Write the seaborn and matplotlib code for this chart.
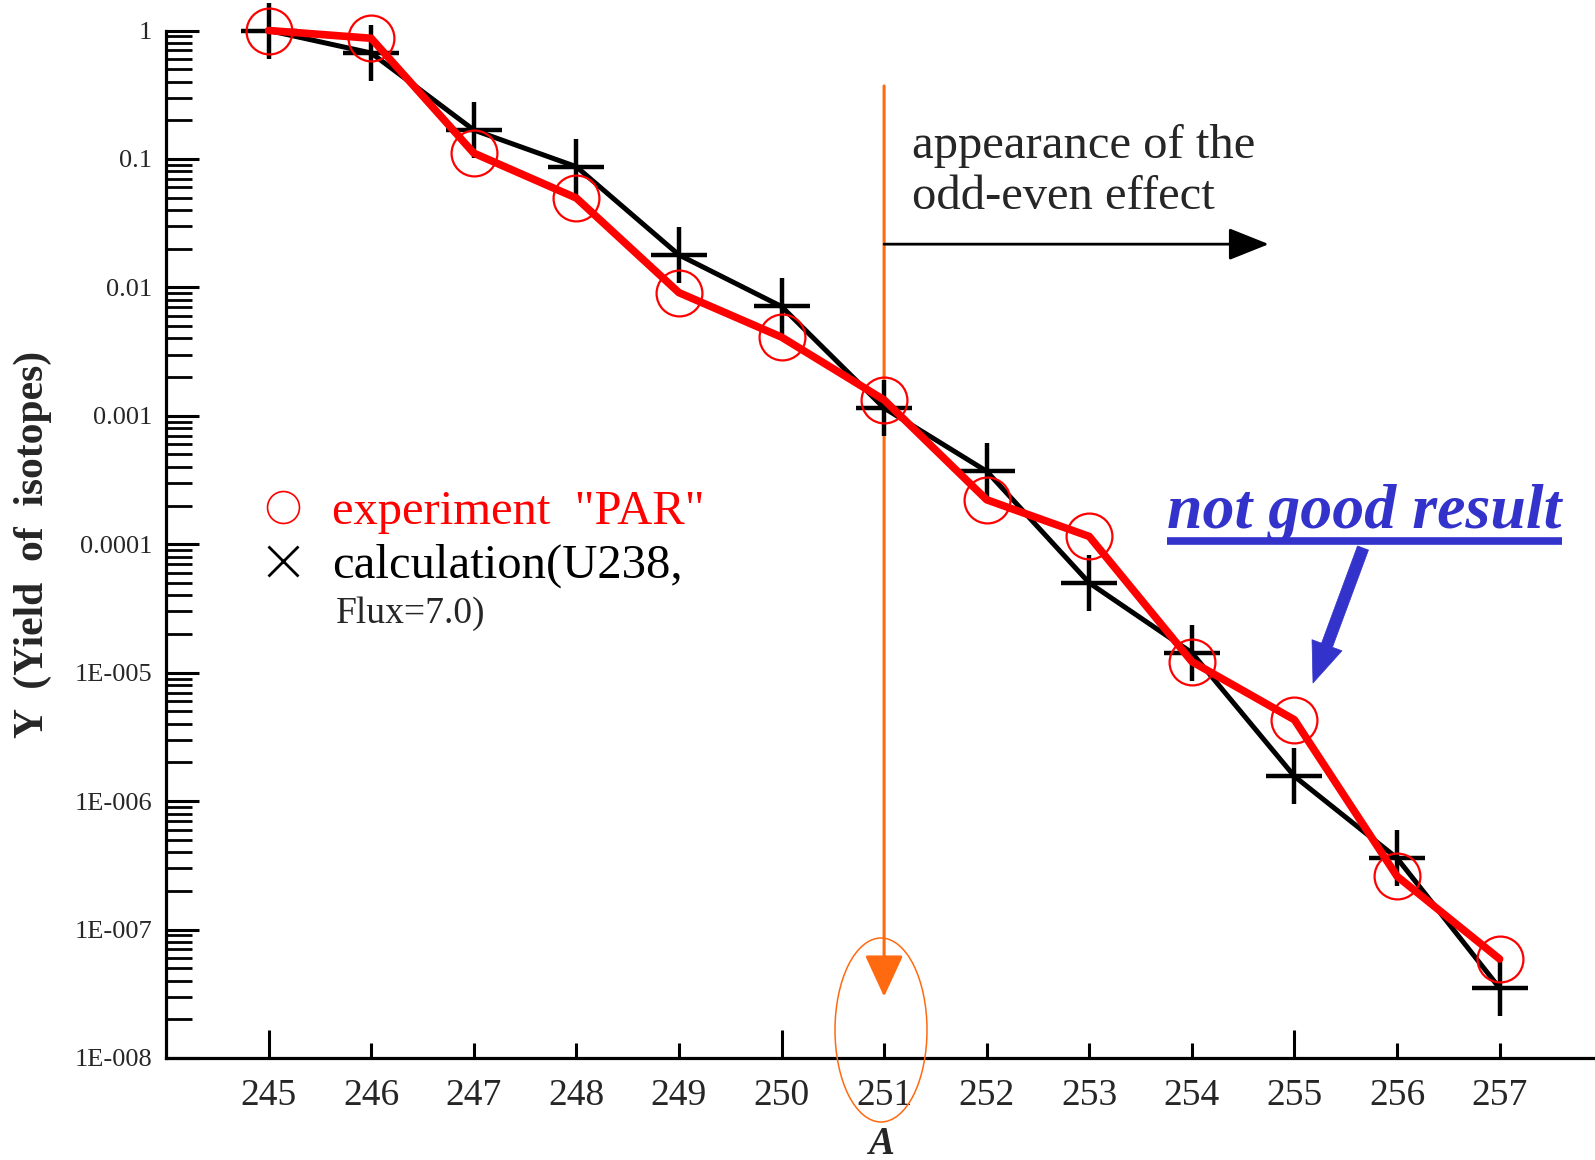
import matplotlib
matplotlib.use("Agg")
import matplotlib.pyplot as plt
import seaborn as sns
import numpy as np
import pandas as pd
from matplotlib.lines import Line2D
from matplotlib.patches import Ellipse
from matplotlib.ticker import FixedLocator, FixedFormatter, LogLocator, NullFormatter

# ---------------- data ----------------
mass_number = [245, 246, 247, 248, 249, 250, 251, 252, 253, 254, 255, 256, 257]
experiment_par = [1.0, 0.87, 0.111, 0.0496, 0.0091, 0.0041, 0.00133, 0.000222,
                  0.000115, 1.22e-5, 4.3e-6, 2.6e-7, 5.9e-8]
calculation_u238 = [1.0, 0.668, 0.168, 0.087, 0.0179, 0.0071, 0.00115, 0.00037,
                    5.0e-5, 1.43e-5, 1.56e-6, 3.6e-7, 3.5e-8]
y_tick_values = [1, 0.1, 0.01, 0.001, 0.0001, 1e-5, 1e-6, 1e-7, 1e-8]
y_tick_labels = ["1", "0.1", "0.01", "0.001", "0.0001", "1E-005", "1E-006", "1E-007", "1E-008"]
x_tick_values = mass_number
x_tick_labels = [str(v) for v in mass_number]

legend_exp = 'experiment  "PAR"'
legend_calc = "calculation(U238,"
legend_calc2 = "Flux=7.0)"
odd_even_text = "appearance of the\nodd-even effect"
not_good_text = "not good result"

df = pd.DataFrame({"A": mass_number, "exp": experiment_par, "calc": calculation_u238})

# ---------------- style ----------------
sns.set_style("white")
plt.rcParams["font.family"] = ["Liberation Serif", "DejaVu Serif"]

W, H = 1595, 1160
fig = plt.figure(figsize=(W / 100, H / 100), dpi=100)
ax_left = 166 / W
ax_bottom = 1 - 1058 / H
ax_top = 1 - 30.5 / H
ax = fig.add_axes([ax_left, ax_bottom, 1.0 - ax_left, ax_top - ax_bottom])

BLUE = "#3333CC"
ORANGE = "#FF6A10"

# calculation line (black, plus markers)
sns.lineplot(data=df, x="A", y="calc", ax=ax, color="black", linewidth=3.6,
             marker="+", markersize=40, markeredgewidth=3.2, markeredgecolor="black",
             zorder=3, estimator=None, sort=False, clip_on=False)
# experiment line (red, hollow circles)
sns.lineplot(data=df, x="A", y="exp", ax=ax, color="red", linewidth=5.5,
             marker="o", markersize=33, markerfacecolor="none", markeredgecolor="red",
             markeredgewidth=1.6, zorder=4, estimator=None, sort=False,
             solid_joinstyle="round", clip_on=False)

ax.set_yscale("log")
ax.set_xlim(244, 257.93)
ax.set_ylim(1e-8, 1)

# spines
for s in ["top", "right"]:
    ax.spines[s].set_visible(False)
for s in ["left", "bottom"]:
    ax.spines[s].set_linewidth(2.3)
    ax.spines[s].set_color("black")

# y ticks
ax.yaxis.set_major_locator(FixedLocator(y_tick_values))
ax.yaxis.set_major_formatter(FixedFormatter(y_tick_labels))
ax.yaxis.set_minor_locator(LogLocator(base=10, subs=np.arange(2, 10), numticks=20))
ax.yaxis.set_minor_formatter(NullFormatter())
ax.tick_params(axis="y", which="both", left=True, right=False)
ax.tick_params(axis="y", which="major", direction="in", length=24, width=2.2,
               labelsize=19, pad=10, color="black")
ax.tick_params(axis="y", which="minor", direction="in", length=19, width=2.0, color="black")

# x ticks: long ticks at 245/250/255, short ones at the rest, all labelled
major_x = [v for v in x_tick_values if v % 5 == 0]
minor_x = [v for v in x_tick_values if v % 5 != 0]
ax.xaxis.set_major_locator(FixedLocator(major_x))
ax.xaxis.set_major_formatter(FixedFormatter([x_tick_labels[x_tick_values.index(v)] for v in major_x]))
ax.xaxis.set_minor_locator(FixedLocator(minor_x))
ax.xaxis.set_minor_formatter(FixedFormatter([x_tick_labels[x_tick_values.index(v)] for v in minor_x]))
ax.tick_params(axis="x", which="both", bottom=True, top=False)
ax.tick_params(axis="x", which="major", direction="in", length=20, width=2.2,
               labelsize=27, pad=15, color="black")
ax.tick_params(axis="x", which="minor", direction="in", length=11, width=2.2,
               labelsize=27, pad=15, color="black")
ax.set_xlabel("")
ax.set_ylabel("")
ax.grid(False)

# axis titles
fig.text(33 / W, 1 - 544 / H, "Y  (Yield  of  isotopes)", rotation=90, ha="center", va="center",
         fontsize=30, fontweight="bold")
fig.text(881 / W, 1 - 1144 / H, "A", ha="center", va="center", fontsize=28,
         fontweight="bold", fontstyle="italic")

# orange vertical arrow at A=251
ax.annotate("", xy=(251, 3.0e-8), xytext=(251, 0.37), xycoords="data",
            arrowprops=dict(arrowstyle="-|>,head_length=1.3,head_width=0.6", color=ORANGE,
                            lw=2.2, mutation_scale=20, shrinkA=0, shrinkB=0), zorder=2)
ell = Ellipse((881 / W, 1 - 1030 / H), 92 / W, 184 / H, transform=fig.transFigure,
              fill=False, edgecolor=ORANGE, linewidth=1.1, clip_on=False)
fig.add_artist(ell)

# black horizontal arrow: appearance of odd-even effect
ax.annotate("", xy=(254.75, 0.0217), xytext=(251.0, 0.0217), xycoords="data",
            arrowprops=dict(arrowstyle="-|>,head_length=1.25,head_width=0.5", color="black",
                            lw=2.0, mutation_scale=20, shrinkA=0, shrinkB=0), zorder=2)
fig.text(912 / W, 1 - 124 / H, odd_even_text, ha="left", va="top", fontsize=35,
         linespacing=1.22)

# legend
handles = [
    Line2D([], [], linestyle="none", marker="o", markersize=23, markerfacecolor="none",
           markeredgecolor="red", markeredgewidth=1.2),
    Line2D([], [], linestyle="none", marker="x", markersize=21, markeredgecolor="black",
           markeredgewidth=2.0),
]
leg = ax.legend(handles, [legend_exp, legend_calc], loc="upper left",
                bbox_to_anchor=(259 / W, 1 - 490 / H), bbox_transform=fig.transFigure,
                frameon=False, fontsize=35, handlelength=1.0, handletextpad=0.5,
                labelspacing=0.2, borderpad=0, borderaxespad=0)
leg.get_texts()[0].set_color("red")
leg.get_texts()[1].set_color("black")
fig.text(336 / W, 1 - 614 / H, legend_calc2, ha="left", va="center", fontsize=27)

# "not good result" annotation
fig.text(1167 / W, 1 - 528 / H, not_good_text, ha="left", va="baseline", fontsize=46,
         fontweight="bold", fontstyle="italic", color=BLUE)
fig.add_artist(Line2D([1167 / W, 1562 / W], [1 - 541 / H, 1 - 541 / H],
                      transform=fig.transFigure, color=BLUE, linewidth=5.5,
                      solid_capstyle="butt"))
ax.annotate("", xy=(1313 / W, 1 - 683 / H), xytext=(1363 / W, 1 - 548 / H),
            xycoords="figure fraction", textcoords="figure fraction",
            arrowprops=dict(arrowstyle="simple,head_length=1.45,head_width=1.15,tail_width=0.42",
                            color=BLUE, lw=0.5, mutation_scale=20, shrinkA=0, shrinkB=0))

fig.savefig("out.png", dpi=100, facecolor="white")
